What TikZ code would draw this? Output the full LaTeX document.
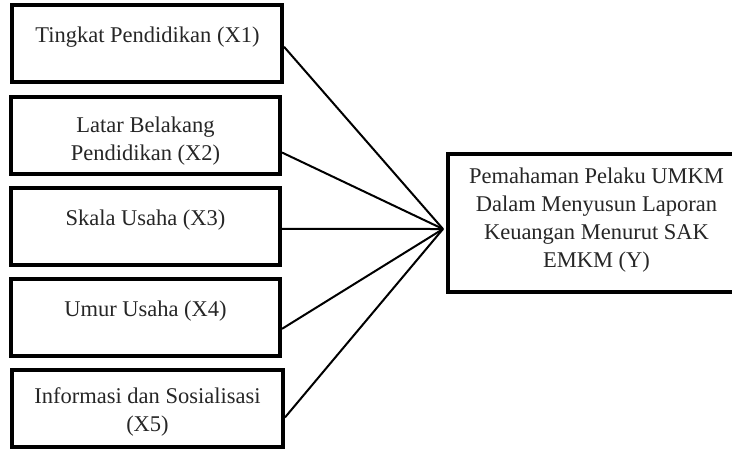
\documentclass[tikz,border=0pt]{standalone}
\usepackage{fontspec}
\setmainfont{Liberation Serif}
\usetikzlibrary{calc}
\begin{document}
\begin{tikzpicture}[x=1pt,y=-1pt,
  box/.style={draw=black,line width=4pt,inner sep=0pt},
  txt/.style={align=center,font=\fontsize{22.5}{28}\selectfont,text=black!85},
  link/.style={draw=black,line width=2pt}]
\useasboundingbox (0,0) rectangle (732,448);
\clip (0,0) rectangle (732,448);
% boxes
\node[box,minimum width=270pt,minimum height=77pt] (x1) at (147,43.5) {};
\node[box,minimum width=269pt,minimum height=77pt] (x2) at (145.5,135.5) {};
\node[box,minimum width=269pt,minimum height=77pt] (x3) at (145.5,226.5) {};
\node[box,minimum width=269pt,minimum height=77pt] (x4) at (145.5,317.5) {};
\node[box,minimum width=271pt,minimum height=77pt] (x5) at (147.5,408.5) {};
\node[box,minimum width=292pt,minimum height=138pt] (y) at (594,223) {};
% texts
\node[txt] (t1) at (147.5,37) {Tingkat Pendidikan (X1)};
\node[txt] (t2) at (145.5,141) {Latar Belakang\\Pendidikan (X2)};
\node[txt] (t3) at (145.5,220) {Skala Usaha (X3)};
\node[txt] (t4) at (145.5,311) {Umur Usaha (X4)};
\node[txt] (t5) at (147.5,412) {Informasi dan Sosialisasi\\(X5)};
\node[txt] (ty) at (596.5,220) {Pemahaman Pelaku UMKM\\Dalam Menyusun Laporan\\Keuangan Menurut SAK\\EMKM (Y)};
% junction
\coordinate (j) at ($(y.west)+(-3,6)$);
\draw[link] ($(x1.north east)!0.54!(x1.south east)$) -- (j);
\draw[link] ($(x2.north east)!0.71!(x2.south east)$) -- (j);
\draw[link] ($(x3.north east)!0.53!(x3.south east)$) -- (j);
\draw[link] ($(x4.north east)!0.64!(x4.south east)$) -- (j);
\draw[link] ($(x5.north east)!0.61!(x5.south east)$) -- (j);
\end{tikzpicture}
\end{document}
